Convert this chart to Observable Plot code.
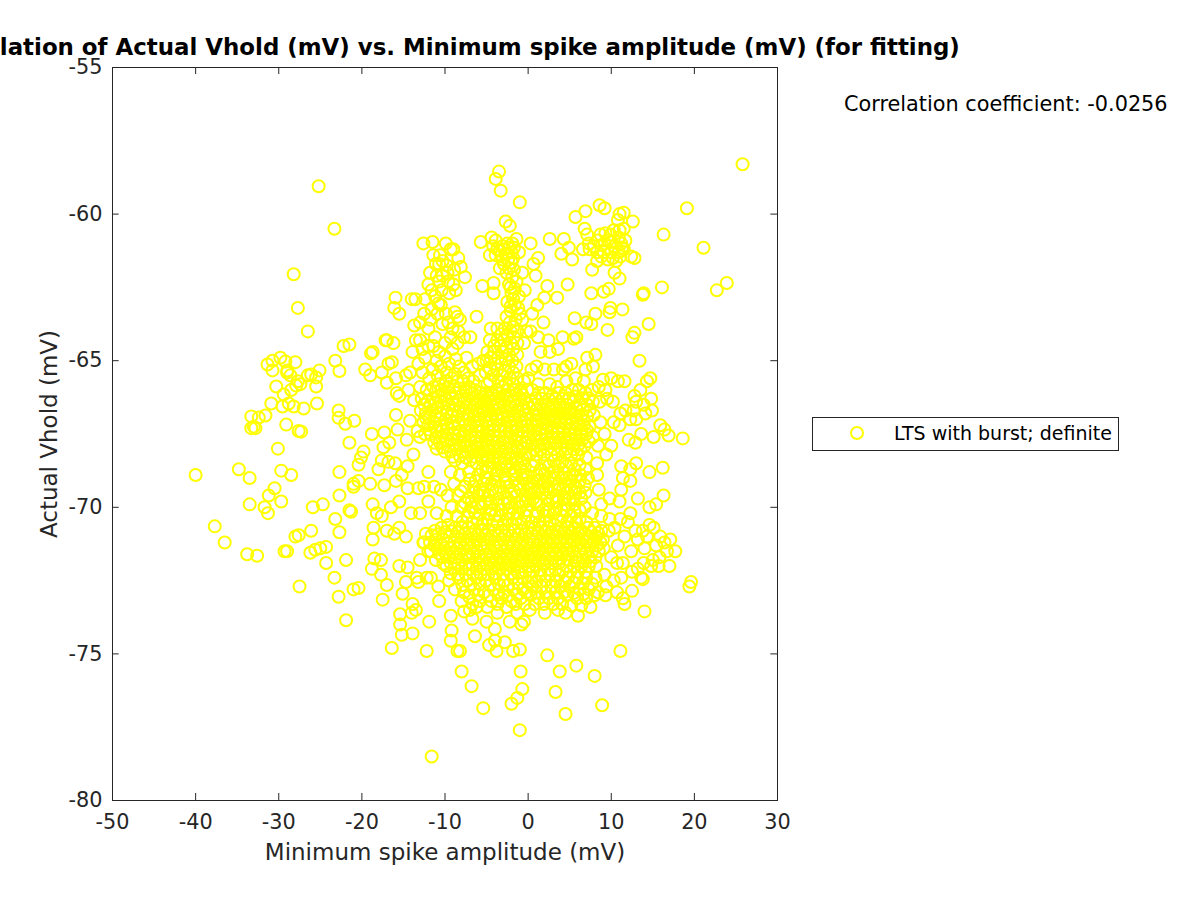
<!DOCTYPE html>
<html><head><meta charset="utf-8">
<script src="https://cdn.jsdelivr.net/npm/d3@7"></script>
<script src="https://cdn.jsdelivr.net/npm/@observablehq/plot@0.6"></script>
<style>
html,body{margin:0;padding:0;background:#fff;overflow:hidden}
#wrap{position:relative;width:1200px;height:900px;font-family:"DejaVu Sans",sans-serif}
.t{position:absolute;white-space:nowrap;color:#000}
#title{left:444.5px;top:33px;transform:translateX(-50%);font-weight:bold;font-size:22.9px;line-height:28px}
#corr{left:844px;top:90px;font-size:20.8px;line-height:28px}
#legend{position:absolute;left:812px;top:417px;width:305px;height:32px;border:1px solid #262626;background:#fff}
#legend svg{position:absolute;left:35px;top:6px}
#legend span{position:absolute;left:81px;top:1px;font-size:19px;line-height:28px;white-space:nowrap;color:#000}
</style></head><body>
<div id="wrap">
<div id="chart"></div>
<div class="t" id="title">Correlation of Actual Vhold (mV) vs. Minimum spike amplitude (mV) (for fitting)</div>
<div class="t" id="corr">Correlation coefficient: -0.0256</div>
<div id="legend"><svg width="18" height="18"><circle cx="9" cy="9" r="6" fill="none" stroke="#ffff00" stroke-width="2"/></svg><span>LTS with burst; definite</span></div>
</div>
<script>
const xTicks=[-50,-40,-30,-20,-10,0,10,20,30];
const yTicks=[-80,-75,-70,-65,-60,-55];
const farOutliers=[[25.8,-58.3],[19.1,-59.8],[21.1,-61.15],[22.7,-62.6],[23.9,-62.35],[16.3,-60.7],[16.1,-62.5],[14.5,-63.75],[-25.2,-59.05],[-23.3,-60.5],[-28.2,-62.05],[-27.7,-63.2],[-26.5,-64],[-3.5,-58.55],[-3.9,-58.8],[-3.3,-59.2],[-1,-59.6],[-11.6,-78.5],[-1,-77.6],[4.5,-77.05],[8.9,-76.75],[-5.4,-76.85],[-2,-76.7],[-1.3,-76.5],[-0.7,-76.2],[3.3,-76.3],[-6.8,-76.1],[-8,-75.6],[-0.9,-75.6],[3.8,-75.6],[5.8,-75.4],[8,-75.75],[2.3,-75.05],[11.1,-74.9],[19.4,-72.7],[19.6,-72.55],[18.6,-67.65],[16.3,-69.6],[16.2,-68.65],[14,-73.55]];
const leftCloud=[[-40,-68.9],[-37.7,-70.65],[-36.5,-71.2],[-33.8,-71.6],[-32.6,-71.65],[-34.8,-68.7],[-33.5,-69],[-33.5,-69.9],[-31.7,-70],[-31.3,-70.2],[-31.2,-69.6],[-30.5,-69.35],[-29.7,-68.75],[-28.5,-68.9],[-29.7,-69.8],[-29.3,-71.5],[-29,-71.5],[-28,-71],[-27.6,-70.95],[-27.5,-72.7],[-24.7,-69.9],[-26.1,-70.8],[-25.9,-70],[-26.2,-71.55],[-25.6,-71.45],[-25,-71.4],[-24.3,-71.35],[-24.3,-71.9],[-23.3,-72.4],[-22.8,-73.05],[-22.7,-70.85],[-23.2,-70.4],[-22.7,-68.8],[-22.7,-69.6],[-21.9,-71.8],[-21.9,-73.85],[-21,-72.8],[-20.4,-72.75],[-21.5,-70.1],[-21.3,-70.15],[-21,-69.2],[-20.4,-69.1],[-21,-69.3],[-21.5,-67.8],[-20.9,-67.05],[-22,-67.15],[-22.8,-66.95],[-22.8,-66.7],[-20.1,-68.3],[-20.4,-68.55],[-19.8,-68.1],[-23.2,-65],[-22.7,-65.35],[-22.2,-64.5],[-21.5,-64.45],[-31.35,-65.13],[-30.75,-65],[-29.8,-64.9],[-29.2,-65.03],[-30.75,-65.33],[-28.95,-65.33],[-30.3,-65.88],[-29.4,-66.15],[-30.9,-66.46],[-29.55,-66.56],[-28.8,-66.46],[-28.2,-66.56],[-31.6,-66.87],[-32.4,-66.94],[-33.3,-66.9],[-33.3,-67.3],[-32.8,-67.3],[-29.1,-67.18],[-27.6,-67.4],[-27.3,-67.42],[-27,-66.63],[-27.9,-65.85],[-27.4,-65.8],[-28.5,-66],[-27.7,-65.7],[-26.5,-65.5],[-26.1,-65.47],[-25.1,-65.33],[-25.5,-65.88],[-25.5,-65.57],[-25.4,-66.46],[-30.1,-68],[-28,-65.05],[-29,-65.4],[-28.6,-65.5],[-33,-67.25]];
const midLeft=[[-19.6,-65.3],[-19,-65.5],[-18.9,-64.75],[-18.7,-64.7],[-17.6,-65.4],[-17,-64.3],[-16.2,-64.4],[-16.8,-65.1],[-16.4,-65.05],[-15.9,-65.6],[-17,-65.75],[-15.5,-66.2],[-15.8,-66.1],[-14.7,-65.5],[-14.2,-65.4],[-15.9,-66.85],[-15.7,-67.35],[-14.4,-66],[-13.7,-66.35],[-14.2,-67.05],[-14.6,-67.7],[-13.3,-67.4],[-13,-67.6],[-17.4,-67.95],[-16.7,-67.8],[-18.8,-67.5],[-17.3,-67.45],[-18,-68.7],[-17.6,-68.4],[-16.8,-68.45],[-15.2,-68.9],[-15.9,-69.1],[-16,-68.5],[-14.5,-68.6],[-13.8,-68.2],[-19,-69.2],[-18.7,-69.9],[-17.3,-69.25],[-17.6,-70.3],[-16.5,-70],[-15.5,-69.8],[-14.5,-69.35],[-13.2,-69.35],[-12.5,-69.3],[-18.6,-70.7],[-18.2,-70.2],[-17,-70.8],[-16.1,-70.9],[-15.5,-70.7],[-14.7,-71],[-14.1,-70.2],[-13,-70.2],[-18.7,-71.1],[-18.5,-71.75],[-17.7,-71.8],[-17.7,-72.3],[-18.8,-72.1],[-17.5,-73.15],[-17,-72.65],[-15.5,-72],[-14.5,-72.05],[-14.7,-72.55],[-13.4,-72.4],[-13.2,-72.55],[-13.9,-73.3],[-13.5,-73.5],[-15.1,-72.95],[-15.4,-73.65],[-15.4,-74],[-15.2,-74.35],[-13.9,-74.3],[-14,-73.6],[-16.4,-74.8],[-12.2,-74.9],[-11.9,-73.9],[-12.5,-71.2],[-12,-71.5],[-13,-71.8],[-11.7,-72.4],[-12.2,-72.4],[-10.8,-72.7],[-10.7,-73.2],[-9.3,-73.7],[-9.2,-74.2],[-9.3,-74.55],[-8.5,-74.9],[-8.2,-74.9],[-7.7,-73.55],[-7,-73.5],[-6.7,-73.8],[-6.4,-74.4],[-6.7,-73.3],[-4.7,-74.7],[-4,-74.55],[-4,-74.15],[-3.8,-74.9],[-2.8,-74.6],[-1.8,-74.9],[-1,-74.85],[-11,-68],[-12,-68.8],[-11.3,-69.3],[-12,-69.8],[-11,-70.2],[-10.5,-69.4]];
const upperLeft=[[-12.6,-61],[-11.5,-60.95],[-5.7,-60.95],[-15.95,-62.85],[-16.1,-63.2],[-15.5,-63.4],[-13.55,-62.9],[-17.15,-64.3],[-6.2,-63.5],[-6.95,-64.2],[-9.9,-61],[-9.3,-61.2],[-9,-61.2],[-10.6,-61.4],[-11.4,-61.4],[-10.3,-61.6],[-8.4,-61.5],[-11.1,-61.7],[-8.9,-61.9],[-8.1,-61.8],[-7.6,-62.15],[-11.8,-62],[-11,-62.1],[-10.3,-62.1],[-9.7,-62],[-12,-62.4],[-9,-62.4],[-10.4,-62.6],[-8.7,-62.6],[-12.4,-62.9],[-11.2,-62.8],[-11.6,-63.25],[-10.5,-63.1],[-10.9,-63.4],[-12.5,-63.4],[-13,-63.7],[-12,-63.9],[-9.9,-63.4],[-9.6,-63.7],[-8.8,-63.35],[-8.5,-63.5],[-9.1,-63.9],[-8.4,-64],[-8.2,-63.6],[-13.5,-64.3],[-13,-64.3],[-12,-64.5],[-13.9,-64.7],[-12.4,-64.9],[-11.4,-64.5],[-10.7,-64.7],[-10,-64.4],[-9.1,-64.6],[-8.5,-64.4],[-7.7,-64.2],[-7.4,-64.9],[-7.7,-65.4],[-8.3,-65.2],[-9.5,-65.1],[-10.5,-65.2],[-11.5,-65.3],[-12.7,-65.4],[-13.2,-65.1],[-6.6,-65.7],[-6,-65.1],[-5.4,-65],[-6.7,-65.2]];
const upperMid=[[-4.4,-60.8],[-3.9,-60.9],[-2.7,-60.25],[-2.2,-60.4],[-4.2,-61.1],[-3.7,-61.2],[-3.1,-61.1],[-2.5,-61],[-1.9,-61],[-1.4,-60.85],[-4.6,-61.4],[-3.9,-61.4],[-3.2,-61.4],[-2.6,-61.35],[-2,-61.3],[-1.1,-61.3],[-2.9,-61.7],[-2,-61.65],[-3.4,-61.85],[-1.7,-61.9],[-0.7,-62],[-2.6,-62],[-2.3,-62.4],[-1.4,-62.3],[-2,-62.7],[-1.1,-62.8],[-2.5,-63],[-1.6,-63.1],[-2.1,-63.3],[-1,-63.4],[-2.6,-63.5],[-1.5,-63.6],[-0.7,-63.6],[-0.4,-62.6],[-2.8,-63.9],[-2.1,-64],[-1.3,-64],[-3.7,-63.9],[-4.5,-63.9],[-4.6,-64.3],[-3.7,-64.3],[-2.9,-64.3],[-2.1,-64.4],[-1.3,-64.4],[-0.2,-64],[0.3,-64],[-4.9,-64.7],[-4.1,-64.7],[-3.1,-64.7],[-2.3,-64.8],[-1.3,-64.8],[-0.5,-64.4],[-5,-65],[-4,-65.1],[-3.2,-65.1],[-2.3,-65.2],[-1.4,-65.2],[-5.1,-65.4],[-4.2,-65.5],[-3.1,-65.5],[-2.2,-65.6],[-1.3,-65.6],[-0.5,-65.7],[-4.9,-65.8],[0.3,-61],[2.6,-60.85],[4.3,-60.85],[4.9,-61.15],[4,-61.35],[5.3,-61.55],[4.75,-62.4],[2.3,-62.45],[1.95,-62.85],[3.5,-62.85],[5.6,-63.55],[4.15,-64.2],[2.45,-64.3],[1.85,-63.7],[1.1,-63.1],[0.5,-63.4],[-4.15,-62.35],[-5.5,-62.45],[-4.15,-62.7],[0.9,-62.1],[0.65,-61.7],[1.2,-61.5],[1.2,-64.2],[1.5,-64.7],[2.6,-64.7],[3.6,-64.6],[5.8,-64.2],[5.5,-64.25],[5.2,-65.1],[4.6,-65.2],[4.2,-65.3],[3.1,-65.3],[2,-65.3],[1,-65.2],[0.4,-65.3],[0,-65.6],[-0.1,-66],[1.2,-65.8],[2.6,-65.8],[3.5,-65.9],[4.6,-65.7],[5.7,-65.6],[6.7,-65.7],[7.1,-64.9],[8.1,-64.8],[7.8,-65.2],[6.9,-65.3],[5.7,-60.1]];
const upperFill=[[-3.4,-61.25],[-2.9,-61.2],[-2.3,-61.15],[-1.7,-61.15],[-3.1,-61.55],[-2.4,-61.55],[-1.8,-61.5],[-2.3,-61.85],[-1.9,-62.15],[-2.1,-62.5],[-1.6,-62.55],[-1.8,-62.9],[-2.1,-63.15],[-1.2,-63.2],[-2.2,-63.7],[-1.8,-63.85],[-3.2,-64.1],[-2.5,-64.15],[-1.7,-64.2],[-4.1,-64.5],[-3.3,-64.5],[-2.6,-64.55],[-1.8,-64.6],[-4.5,-64.9],[-3.6,-64.9],[-2.7,-64.95],[-1.9,-65],[-4.6,-65.25],[-3.7,-65.3],[-2.8,-65.35],[-1.8,-65.4],[-5.8,-65.5],[-4.6,-65.7],[-3.6,-65.7],[-2.7,-65.8],[-1.8,-65.8],[-10.7,-61.7],[-9.8,-61.75],[-10.7,-62.3],[-9.6,-62.3],[-11.6,-62.6],[-9.5,-62.7],[-10.8,-63.05],[-11.8,-63.6],[-10.3,-63.75],[-9.3,-64.2],[-11.2,-64.2],[-12.7,-64.6],[-11,-65],[-10,-64.85],[-8.7,-64.95],[-11.9,-65.6],[-10.9,-65.5],[-9.8,-65.4],[-8.8,-65.45],[-7.2,-65.6],[8.9,-61.05],[7.9,-61.1],[9.6,-60.9],[10.4,-61.1],[11,-60.55],[11.3,-61.15],[8.8,-61.45],[10.2,-61.5]];
const upperRight=[[7.6,-62.7],[9.1,-62.65],[9.7,-62.55],[13.8,-62.75],[13.9,-62.7],[8.1,-63.4],[11.35,-63.25],[9.9,-63.2],[9.8,-63.35],[7,-63.7],[7.6,-63.75],[9.55,-63.95],[12.8,-64.05],[12.55,-64.2],[13.4,-65],[6.9,-59.9],[8.6,-59.7],[9.2,-59.8],[11.5,-59.95],[11,-60],[10.8,-60.2],[12.6,-60.25],[6.8,-60.5],[7.1,-60.7],[8.7,-60.7],[9.3,-60.65],[9.9,-60.7],[10.3,-60.55],[11.5,-60.5],[10.9,-60.8],[7.3,-61],[8.4,-60.9],[9.2,-61],[10,-60.95],[11.2,-61],[11.7,-60.9],[6.6,-61.2],[7.4,-61.2],[8.3,-61.3],[9.1,-61.3],[10,-61.3],[10.9,-61.3],[11.5,-61.2],[8.3,-61.6],[9.6,-61.55],[10.6,-61.6],[11.1,-61.45],[12.4,-61.45],[12.8,-61.5],[10.4,-62],[7.7,-61.9],[11,-62.2],[-14,-62.9],[-13.7,-63.8]];
const topBlob=[[-13,-65.9],[-12.2,-66],[-11.4,-65.9],[-10.7,-65.8],[-9.9,-65.7],[-9.2,-65.6],[-8.5,-65.7],[-7.8,-65.7],[-7.1,-65.9],[-6.4,-66],[-5.7,-66.1],[-5.1,-66.1],[-4.5,-66.1],[-3.8,-66],[-3.1,-65.9],[-2.4,-66],[-1.7,-66],[-0.9,-66],[-12.8,-66.3],[-12.1,-66.4],[-11.5,-66.3],[-10.8,-66.2],[-10.1,-66.2],[-9.4,-66.1],[-8.7,-66.1],[-8,-66.2],[-7.3,-66.3],[-6.6,-66.3],[-6,-66.4],[-5.3,-66.4],[-4.6,-66.4],[-3.9,-66.3],[-3.2,-66.3],[-2.5,-66.3],[-1.8,-66.4],[-1.1,-66.3],[-0.4,-66.3],[-12.9,-66.7],[-12.3,-66.8],[-11.6,-66.7],[-10.9,-66.6],[-10.2,-66.6],[-9.5,-66.5],[-8.8,-66.5],[-8.1,-66.6],[-7.5,-66.6],[-6.8,-66.7],[-6.1,-66.7],[-5.5,-66.7],[-4.8,-66.7],[-4.1,-66.7],[-3.4,-66.6],[-2.7,-66.7],[-2,-66.7],[-1.3,-66.7],[-0.6,-66.7],[0.1,-66.6],[-12.6,-67.1],[-12,-67.2],[-11.3,-67.1],[-10.6,-67],[-9.9,-67],[-9.2,-66.9],[-8.5,-66.9],[-7.8,-67],[-7.1,-67],[-6.5,-67.1],[-5.8,-67],[-5.1,-67.1],[-4.4,-67],[-3.7,-67],[-3,-67],[-2.3,-67.1],[-1.6,-67],[-0.9,-67.1],[-0.2,-67],[-12.4,-67.5],[-11.7,-67.5],[-11,-67.4],[-10.3,-67.4],[-9.6,-67.3],[-8.9,-67.3],[-8.2,-67.4],[-7.5,-67.4],[-6.8,-67.4],[-6.1,-67.4],[-5.5,-67.4],[-4.8,-67.4],[-4.1,-67.4],[-3.4,-67.4],[-2.7,-67.4],[-2,-67.4],[-1.3,-67.4],[-0.6,-67.4],[0,-67.4],[-11.3,-67.8],[-10.6,-67.8],[-9.9,-67.7],[-9.2,-67.7],[-8.5,-67.7],[-7.8,-67.8],[-7.1,-67.7],[-6.4,-67.8],[-5.8,-67.8],[-5.1,-67.7],[-4.4,-67.7],[-3.7,-67.8],[-3,-67.8],[-2.3,-67.8],[-1.6,-67.7],[-0.9,-67.8],[-0.2,-67.8],[-10,-68.1],[-9.3,-68.1],[-8.6,-68],[-7.9,-68.1],[-7.3,-68.1],[-6.6,-68.1],[-5.9,-68.1],[-5.2,-68.1],[-4.5,-68.1],[-3.8,-68.1],[-3.1,-68.1],[-2.4,-68.2],[-1.7,-68.1],[-1,-68.1],[-0.3,-68.2],[-6.2,-68.5],[-5.5,-68.4],[-4.8,-68.4],[-4.1,-68.5],[-3.4,-68.5],[-2.7,-68.5],[-2,-68.5],[-1.3,-68.5],[-0.6,-68.5],[-8.8,-68.4],[-7.9,-68.5],[-7,-68.4]];
const topBlobRight=[[0.5,-66],[1.3,-66.1],[2.1,-66.1],[2.9,-66.2],[3.7,-66.1],[4.5,-66.1],[5.3,-66],[6.1,-66],[6.9,-66.1],[7.7,-66],[8.5,-65.9],[9.3,-66],[0.8,-66.5],[1.6,-66.5],[2.4,-66.5],[3.1,-66.5],[3.9,-66.5],[4.7,-66.5],[5.5,-66.4],[6.3,-66.5],[7.1,-66.5],[7.8,-66.4],[8.6,-66.4],[0.6,-66.85],[1.3,-66.85],[2.1,-66.8],[2.8,-66.85],[3.5,-66.8],[4.2,-66.8],[4.9,-66.8],[5.6,-66.85],[6.4,-66.85],[7.1,-66.9],[7.9,-66.85],[0.4,-67.2],[1.1,-67.2],[1.8,-67.15],[2.5,-67.2],[3.2,-67.1],[3.9,-67.1],[4.6,-67.15],[5.3,-67.15],[6,-67.2],[6.7,-67.2],[7.4,-67.25],[0.7,-67.55],[1.4,-67.5],[2.1,-67.5],[2.8,-67.45],[3.5,-67.45],[4.2,-67.45],[4.9,-67.5],[5.6,-67.5],[6.3,-67.5],[7,-67.5],[7.8,-67.6],[0.5,-67.85],[1.2,-67.9],[1.9,-67.85],[2.6,-67.8],[3.3,-67.8],[4,-67.8],[4.7,-67.8],[5.4,-67.85],[6.1,-67.85],[6.8,-67.9],[0.2,-68.2],[1,-68.2],[1.9,-68.2],[2.8,-68.2],[3.6,-68.2],[4.5,-68.15],[5.2,-68.2],[6,-68.2],[7,-68.3],[9,-65.65],[10,-65.6],[10.8,-65.7],[11.6,-65.7],[12.8,-66.2],[13.5,-66],[14.3,-65.7],[14.7,-65.6],[13,-66.4],[14.8,-66.3],[13.9,-66.5],[12.7,-66.7],[9.5,-66.3],[10.2,-66.4],[11.1,-66.8],[11.7,-66.7],[12.3,-67],[13,-67],[14.1,-66.8],[14.9,-66.7],[15.9,-67.2],[16.4,-67.35],[16.9,-67.55],[15.1,-67.6],[13.6,-67.5],[12.1,-67.7],[12.9,-67.8],[10.3,-67.1],[11,-67.2],[8.7,-67.1],[9.2,-67.5],[10,-67.9],[8.4,-67.9],[9.4,-68.2],[8.3,-68.5],[11.2,-68.6],[11.4,-69],[11.2,-69.4],[12.3,-68.7],[12.3,-69.1],[13,-68.5],[14.6,-68.8],[13.2,-69.7],[14.6,-70],[15.4,-69.9],[11,-69.8],[9.8,-69.7],[8.8,-69.9],[12.3,-70.2],[8.3,-68.9],[8.5,-69.4]];
const topBlobFill=[[-11.1,-66.05],[-10.4,-65.98],[-9.6,-65.9],[-8.9,-65.88],[-8.2,-65.95],[-7.5,-66.05],[-6.8,-66.12],[-6.2,-66.2],[-5.4,-66.24],[-4.8,-66.26],[-4.2,-66.18],[-3.5,-66.12],[-2.8,-66.16],[-2.1,-66.2],[-1.4,-66.14],[-0.7,-66.16],[-12.5,-66.5],[-11.8,-66.52],[-11.1,-66.42],[-10.5,-66.4],[-9.8,-66.34],[-9.1,-66.3],[-8.4,-66.35],[-7.7,-66.42],[-7,-66.5],[-6.4,-66.52],[-5.7,-66.56],[-5,-66.55],[-4.3,-66.54],[-3.6,-66.47],[-2.9,-66.5],[-2.2,-66.55],[-1.5,-66.52],[-0.8,-66.5],[-0.1,-66.45],[-12.3,-66.95],[-11.9,-66.93],[-11.2,-66.88],[-10.5,-66.8],[-9.8,-66.75],[-9.1,-66.7],[-8.4,-66.72],[-7.8,-66.8],[-7.2,-66.82],[-6.5,-66.88],[-5.9,-66.85],[-5.2,-66.9],[-4.5,-66.86],[-3.8,-66.83],[-3.1,-66.83],[-2.4,-66.9],[-1.7,-66.85],[-1,-66.9],[-0.3,-66.85],[-11.9,-67.35],[-11.2,-67.28],[-10.5,-67.22],[-9.8,-67.18],[-9,-67.12],[-8.3,-67.15],[-7.6,-67.2],[-7,-67.22],[-6.3,-67.25],[-5.6,-67.22],[-4.9,-67.24],[-4.2,-67.2],[-3.5,-67.22],[-2.8,-67.25],[-2.1,-67.22],[-1.4,-67.24],[-0.7,-67.22],[-0.1,-67.2],[-11.1,-67.62],[-10.4,-67.6],[-9.7,-67.5],[-9,-67.5],[-8.4,-67.55],[-7.7,-67.58],[-7,-67.55],[-6.3,-67.6],[-5.6,-67.6],[-4.9,-67.55],[-4.2,-67.55],[-3.5,-67.6],[-2.8,-67.6],[-2.1,-67.62],[-1.4,-67.55],[-0.7,-67.6],[0,-67.62],[-10.3,-67.96],[-9.6,-67.9],[-8.9,-67.85],[-8.2,-67.9],[-7.5,-67.92],[-6.9,-67.93],[-6.2,-67.95],[-5.5,-67.94],[-4.8,-67.92],[-4.1,-67.94],[-3.4,-67.96],[-2.7,-68],[-2,-67.95],[-1.3,-67.96],[-0.6,-67.98],[-9.1,-68.28],[-8.2,-68.25],[-7.5,-68.3],[-6.4,-68.28],[-5.6,-68.26],[-4.9,-68.27],[-4.2,-68.3],[-3.5,-68.3],[-2.8,-68.34],[-2.1,-68.3],[-1.4,-68.32],[-0.7,-68.34],[0.9,-66.28],[1.7,-66.3],[2.5,-66.33],[3.3,-66.3],[4.1,-66.3],[4.9,-66.28],[5.7,-66.22],[6.5,-66.28],[7.3,-66.28],[1,-66.68],[1.8,-66.66],[2.6,-66.66],[3.4,-66.66],[4.2,-66.63],[5,-66.65],[5.8,-66.63],[6.6,-66.68],[7.4,-66.7],[0.9,-67.02],[1.6,-67],[2.4,-66.98],[3.1,-66.97],[3.8,-66.95],[4.5,-66.97],[5.2,-66.97],[5.9,-67.02],[6.7,-67.04],[0.8,-67.38],[1.5,-67.33],[2.2,-67.32],[2.9,-67.28],[3.6,-67.28],[4.3,-67.3],[5,-67.33],[5.7,-67.33],[6.4,-67.35],[7.1,-67.38],[0.9,-67.7],[1.6,-67.68],[2.3,-67.66],[3,-67.63],[3.7,-67.62],[4.4,-67.63],[5.1,-67.66],[5.8,-67.68],[6.5,-67.7],[7.3,-67.75],[0.7,-68.03],[1.5,-68.03],[2.3,-68],[3.1,-68],[3.9,-67.98],[4.7,-68],[5.5,-68.02],[6.3,-68.03]];
const middleColumn=[[-9.3,-68.8],[-8.2,-68.9],[-7.1,-68.8],[-6,-68.9],[-5,-68.8],[-3.9,-68.9],[-2.8,-68.9],[-1.7,-68.9],[-0.6,-68.8],[0.5,-68.6],[1.5,-68.7],[2.5,-68.6],[3.6,-68.6],[4.6,-68.6],[5.6,-68.7],[6.9,-68.7],[-8.9,-69.2],[-7.6,-69.3],[-6.5,-69.3],[-5.4,-69.2],[-4.4,-69.2],[-3.4,-69.3],[-2.3,-69.3],[-1.2,-69.2],[-0.1,-69.2],[1,-69.1],[2,-69.1],[3.1,-69],[4.1,-69],[5.1,-69.1],[6.2,-69.1],[7.2,-69],[-9.7,-69.6],[-8.4,-69.6],[-7.2,-69.7],[-6,-69.6],[-4.8,-69.6],[-3.6,-69.7],[-2.5,-69.7],[-1.4,-69.6],[-0.3,-69.6],[0.7,-69.5],[1.7,-69.5],[2.7,-69.5],[3.7,-69.4],[4.7,-69.5],[5.7,-69.5],[6.9,-69.5],[-9.2,-70],[-8,-70],[-6.8,-70],[-5.6,-70],[-4.4,-70.1],[-3.2,-70.1],[-2,-70],[-0.9,-70],[0.2,-69.9],[1.3,-69.9],[2.4,-69.9],[3.4,-69.8],[4.5,-69.9],[5.6,-69.9],[6.8,-70],[7.7,-70.2],[-9.8,-70.3],[-8.6,-70.3],[-7.3,-70.3],[-6.1,-70.4],[-4.9,-70.4],[-3.7,-70.5],[-2.5,-70.4],[-1.4,-70.4],[-0.3,-70.3],[0.9,-70.3],[2,-70.3],[3.1,-70.2],[4.1,-70.3],[5.2,-70.3],[6.2,-70.4],[8.8,-70.3],[9.8,-70.4],[-5.5,-68.7],[-4.3,-68.65],[-3.2,-68.7],[-2.2,-68.72],[-1,-68.65],[0,-68.92],[1.1,-68.9],[2,-68.85],[3.1,-68.8],[4.3,-68.82],[5.3,-68.88],[6.3,-68.9],[-8.1,-69.45],[-7,-69.05],[-5.8,-69.42],[-4.9,-69.02],[-3.9,-69.45],[-2.8,-69.08],[-1.7,-69.45],[-0.7,-69.02],[0.3,-69.38],[1.4,-69.3],[2.4,-69.28],[3.6,-69.22],[4.6,-69.27],[5.7,-69.3],[6.8,-69.25],[-7.6,-69.85],[-6.4,-70.18],[-5.2,-69.82],[-4,-70.28],[-2.9,-69.88],[-1.8,-70.22],[-0.7,-69.8],[0.6,-69.7],[1.8,-70.1],[2.9,-69.7],[4,-70.08],[5,-69.7],[6.2,-70.1],[-7.9,-70.5],[-6.7,-70.52],[-5.5,-70.58],[-4.3,-70.6],[-3,-70.6],[-1.9,-70.58],[-0.8,-70.55],[0.4,-70.5],[1.4,-70.5],[2.6,-70.48],[3.6,-70.45],[4.7,-70.5],[5.8,-70.52],[7,-70.5]];
const middleFill=[[-4.8,-68.62],[-3.7,-68.75],[-2.6,-68.6],[-1.5,-68.78],[-0.4,-68.6],[0.9,-68.45],[2,-68.5],[3.1,-68.42],[4.1,-68.45],[5.2,-68.5],[6.2,-68.55],[-6.3,-69.1],[-5.1,-68.98],[-3.9,-69.12],[-2.6,-69.15],[-1.6,-69.05],[-0.4,-69.05],[0.5,-69.12],[1.5,-69.05],[2.6,-68.98],[3.6,-68.9],[4.6,-69.02],[5.7,-68.95],[-6.6,-69.5],[-5.4,-69.5],[-4.3,-69.4],[-3,-69.5],[-2,-69.55],[-0.9,-69.4],[0.2,-69.55],[1.2,-69.42],[2.2,-69.4],[3.2,-69.4],[4.2,-69.38],[5.2,-69.42],[6.2,-69.5],[-6.8,-69.8],[-6,-69.9],[-4.5,-69.85],[-3.6,-69.92],[-2.4,-69.85],[-1.3,-69.85],[-0.3,-69.8],[0.9,-69.82],[2.3,-69.68],[3.4,-69.62],[4.4,-69.65],[5.4,-69.7],[6.4,-69.7],[-7.1,-70.15],[-5.8,-70.25],[-4.7,-70.2],[-3.4,-70.3],[-2.3,-70.2],[-1.2,-70.2],[-0.2,-70.1],[1.2,-70.2],[2.4,-70.15],[3.4,-70.05],[4.6,-70.12],[5.6,-70.15]];
const lowerBlob=[[-12.3,-70.9],[-11.2,-70.8],[-10.4,-70.7],[-9.6,-70.6],[-8.8,-70.7],[-8,-70.7],[-7.2,-70.7],[-6.4,-70.8],[-5.6,-70.8],[-4.8,-70.8],[-4,-70.8],[-3.2,-70.8],[-2.4,-70.8],[-1.6,-70.8],[-0.8,-70.8],[0,-70.7],[0.8,-70.7],[1.6,-70.7],[2.4,-70.7],[3.2,-70.6],[4,-70.7],[4.8,-70.7],[5.6,-70.7],[6.4,-70.8],[7.2,-70.7],[8,-70.7],[8.8,-70.8],[-12.6,-71.2],[-11.8,-71.2],[-11,-71.1],[-10.2,-71.1],[-9.4,-71],[-8.6,-71],[-7.8,-71.1],[-7,-71.1],[-6.2,-71.1],[-5.4,-71.1],[-4.6,-71.1],[-3.8,-71.2],[-3,-71.1],[-2.2,-71.2],[-1.4,-71.1],[-0.6,-71.1],[0.2,-71.1],[1,-71],[1.8,-71],[2.6,-71],[3.4,-71],[4.2,-71],[5,-71],[5.8,-71],[6.6,-71.1],[7.4,-71],[8.2,-71],[9,-71.1],[-11.7,-71.5],[-10.9,-71.4],[-10.1,-71.4],[-9.3,-71.4],[-8.5,-71.4],[-7.7,-71.4],[-6.9,-71.4],[-6.1,-71.5],[-5.3,-71.4],[-4.5,-71.5],[-3.7,-71.5],[-2.9,-71.5],[-2.1,-71.5],[-1.3,-71.4],[-0.5,-71.4],[0.3,-71.4],[1.1,-71.3],[1.9,-71.3],[2.7,-71.3],[3.5,-71.3],[4.3,-71.3],[5.1,-71.3],[5.9,-71.3],[6.7,-71.4],[7.5,-71.3],[8.3,-71.3],[9.1,-71.4],[-11.1,-71.8],[-10.3,-71.7],[-9.5,-71.7],[-8.7,-71.7],[-7.9,-71.8],[-7.1,-71.7],[-6.3,-71.8],[-5.5,-71.8],[-4.7,-71.8],[-3.9,-71.8],[-3.1,-71.8],[-2.3,-71.8],[-1.5,-71.8],[-0.7,-71.7],[0.1,-71.7],[0.9,-71.7],[1.7,-71.6],[2.5,-71.6],[3.3,-71.6],[4.1,-71.6],[4.9,-71.6],[5.7,-71.7],[6.5,-71.7],[7.3,-71.7],[8.1,-71.7],[-9.8,-72],[-8.9,-72.1],[-8,-72.1],[-7.1,-72.1],[-6.2,-72.1],[-5.3,-72.1],[-4.4,-72.1],[-3.5,-72.1],[-2.6,-72.1],[-1.7,-72.1],[-0.8,-72],[0.1,-72],[1,-72],[1.9,-71.9],[2.8,-71.9],[3.7,-71.9],[4.6,-72],[5.5,-72],[6.4,-72],[7.3,-72],[8.2,-72]];
const lowerBlobFill=[[-11.6,-70.95],[-10.8,-70.92],[-10,-70.85],[-9.2,-70.82],[-8.4,-70.85],[-7.6,-70.9],[-6.8,-70.93],[-6,-70.96],[-5.2,-70.94],[-4.4,-70.98],[-3.6,-70.97],[-2.8,-70.95],[-2,-70.98],[-1.2,-70.94],[-0.4,-70.92],[0.4,-70.88],[1.2,-70.84],[2,-70.85],[2.8,-70.84],[3.6,-70.82],[4.4,-70.85],[5.2,-70.85],[6,-70.86],[6.8,-70.92],[7.6,-70.85],[8.4,-70.88],[-11.3,-71.3],[-10.5,-71.25],[-9.7,-71.22],[-8.9,-71.2],[-8.1,-71.23],[-7.3,-71.26],[-6.5,-71.28],[-5.7,-71.28],[-4.9,-71.3],[-4.1,-71.33],[-3.3,-71.3],[-2.5,-71.34],[-1.7,-71.3],[-0.9,-71.26],[-0.1,-71.24],[0.7,-71.18],[1.5,-71.15],[2.3,-71.15],[3.1,-71.15],[3.9,-71.15],[4.7,-71.15],[5.5,-71.15],[6.3,-71.2],[7.1,-71.17],[7.9,-71.15],[8.7,-71.2],[-10.7,-71.58],[-9.9,-71.55],[-9.1,-71.55],[-8.3,-71.58],[-7.5,-71.6],[-6.7,-71.58],[-5.9,-71.65],[-5.1,-71.62],[-4.3,-71.66],[-3.5,-71.66],[-2.7,-71.65],[-1.9,-71.66],[-1.1,-71.6],[-0.3,-71.56],[0.5,-71.55],[1.3,-71.48],[2.1,-71.45],[2.9,-71.45],[3.7,-71.45],[4.5,-71.45],[5.3,-71.5],[6.1,-71.5],[6.9,-71.55],[7.7,-71.5],[8.5,-71.5],[-10.2,-71.92],[-9.3,-71.9],[-8.4,-71.94],[-7.5,-71.95],[-6.7,-71.94],[-5.8,-71.96],[-5,-71.95],[-4.1,-71.96],[-3.3,-71.95],[-2.4,-71.96],[-1.5,-71.95],[-0.6,-71.86],[0.3,-71.85],[1.2,-71.82],[2.1,-71.76],[3,-71.75],[3.9,-71.75],[4.8,-71.8],[5.7,-71.85],[6.6,-71.85],[7.5,-71.85],[-9.3,-72.25],[-8.4,-72.28],[-7.5,-72.28],[-6.6,-72.27],[-5.7,-72.28],[-4.8,-72.28],[-3.9,-72.26],[-3,-72.28],[-2.1,-72.26],[-1.2,-72.24],[-0.3,-72.2],[0.6,-72.18],[1.5,-72.14],[2.4,-72.12],[3.3,-72.12],[4.2,-72.15],[5.1,-72.18],[6,-72.2],[6.9,-72.2]];
const lowerFringe=[[-9.5,-72.5],[-8.4,-72.4],[-7.3,-72.5],[-6.2,-72.4],[-5.1,-72.5],[-4,-72.4],[-2.9,-72.5],[-1.8,-72.4],[-0.7,-72.4],[0.4,-72.4],[1.5,-72.3],[2.6,-72.3],[3.7,-72.3],[4.8,-72.4],[5.9,-72.4],[7,-72.4],[8.1,-72.4],[9.2,-72.3],[-8.8,-72.8],[-7.7,-72.9],[-6.5,-72.8],[-5.3,-72.9],[-4.1,-72.8],[-2.9,-72.9],[-1.8,-72.8],[-0.6,-72.8],[0.5,-72.7],[1.6,-72.7],[2.8,-72.7],[3.9,-72.7],[5,-72.7],[6.2,-72.8],[7.3,-72.8],[8.4,-72.9],[9.4,-72.7],[-8,-73.2],[-5.8,-73.2],[-4.4,-73.2],[-3.2,-73.1],[-2,-73.2],[-0.9,-73.1],[0.3,-73],[1.3,-73.1],[2.5,-73.1],[3.6,-73.1],[4.7,-73],[5.9,-73.1],[7,-73.1],[8,-73],[-3.7,-73.6],[-1.3,-73.6],[-0.5,-73.9],[-0.8,-74],[0.2,-73.5],[2,-73.6],[3.6,-73.5],[4.5,-73.6],[6,-73.7],[7.5,-73.4],[9.3,-73],[11.4,-73.1],[11.6,-73.3],[12.5,-72.85],[-5,-73.9],[-2.2,-73.9],[-7.9,-72.65],[-6.9,-72.62],[-5.8,-72.62],[-4.6,-72.65],[-3.5,-72.62],[-2.4,-72.65],[-1.2,-72.6],[0,-72.55],[1,-72.52],[2.1,-72.5],[3.3,-72.52],[4.4,-72.55],[5.5,-72.58],[6.6,-72.6],[7.7,-72.62],[-7.1,-73.05],[-6,-72.98],[-4.8,-73.02],[-3.6,-72.98],[-2.4,-73.02],[-1.3,-72.96],[-0.2,-72.9],[1,-72.9],[2.1,-72.9],[3.3,-72.9],[4.4,-72.88],[5.5,-72.92],[6.7,-72.95],[-6.2,-73.4],[-4.9,-73.4],[-3.7,-73.3],[-2.6,-73.4],[-1.5,-73.3],[-0.4,-73.3],[0.8,-73.3],[1.9,-73.3],[3,-73.3],[4.1,-73.3],[5.2,-73.35],[6.4,-73.35]];
const rightLower=[[9.7,-70.8],[10.4,-70.7],[11.1,-70.4],[12,-70.5],[12.9,-70.8],[13.8,-70.8],[14.6,-70.6],[15.1,-70.7],[15.9,-71],[16.4,-71.2],[17.1,-71.1],[17.7,-71.5],[16.7,-71.5],[17,-72],[15.8,-71.7],[15,-71.8],[14.8,-72],[14,-71.4],[13.2,-71.1],[13.9,-71.9],[13.2,-72.1],[12.4,-71.5],[11.6,-71],[10.8,-71.3],[10,-71.7],[10.7,-71.9],[11.4,-71.9],[12.5,-72.2],[13.6,-72.4],[13.8,-72.45],[11.2,-72.4],[10.3,-72.5],[10.7,-72.9],[14.3,-71],[15.4,-71.3],[15.7,-72]];
const amplitudes=[farOutliers,leftCloud,midLeft,upperLeft,upperMid,upperFill,upperRight,topBlob,topBlobRight,topBlobFill,middleColumn,middleFill,lowerBlob,lowerBlobFill,lowerFringe,rightLower].flat();
const axisColor="#262626";
const plot=Plot.plot({
  width:1200,height:900,
  marginLeft:112,marginRight:423,marginTop:67,marginBottom:100,
  style:{fontFamily:'"DejaVu Sans",sans-serif',background:"transparent",overflow:"visible"},
  x:{domain:[-50,30],ticks:xTicks},
  y:{domain:[-80,-55],ticks:yTicks},
  marks:[
    Plot.dot(amplitudes,{x:d=>d[0],y:d=>d[1],r:6,stroke:"#ffff00",strokeWidth:2,fill:"none"}),
    Plot.frame({stroke:axisColor,strokeWidth:1}),
    Plot.axisX(xTicks,{anchor:"bottom",tickSize:0,tickPadding:14,fontSize:20.8,color:axisColor,label:"Minimum spike amplitude (mV)",labelAnchor:"center",labelArrow:"none",labelOffset:59,tickFormat:d=>String(d)}),
    Plot.axisY(yTicks,{anchor:"left",tickSize:0,tickPadding:10,fontSize:20.8,color:axisColor,label:"Actual Vhold (mV)",labelAnchor:"center",labelArrow:"none",labelOffset:72,tickFormat:d=>String(d)}),
    Plot.ruleX(xTicks,{x:d=>d,y1:-80,y2:-79.76,stroke:axisColor}),
    Plot.ruleX(xTicks,{x:d=>d,y1:-55,y2:-55.24,stroke:axisColor}),
    Plot.ruleY(yTicks,{y:d=>d,x1:-50,x2:-49.2,stroke:axisColor}),
    Plot.ruleY(yTicks,{y:d=>d,x1:30,x2:29.2,stroke:axisColor})
  ]
});
plot.querySelectorAll('[aria-label="x-axis label"] text, [aria-label="y-axis label"] text').forEach(t=>t.setAttribute("font-size","23"));
document.getElementById("chart").appendChild(plot);
</script>
</body></html>
